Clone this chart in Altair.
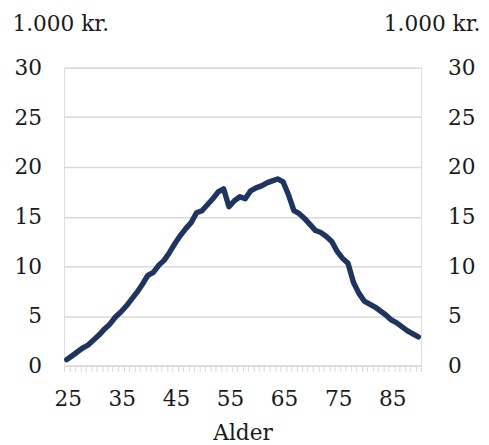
import altair as alt
import pandas as pd

ages = list(range(25, 91))
values = [0.6, 1.0, 1.4, 1.8, 2.1, 2.6, 3.1, 3.7, 4.2, 4.9,
          5.4, 6.0, 6.7, 7.4, 8.2, 9.1, 9.4, 10.1, 10.6, 11.4,
          12.3, 13.1, 13.8, 14.4, 15.4, 15.6, 16.2, 16.8, 17.5, 17.8,
          16.0, 16.6, 17.0, 16.8, 17.6, 17.9, 18.1, 18.4, 18.6, 18.8,
          18.5, 17.2, 15.6, 15.3, 14.8, 14.2, 13.6, 13.4, 13.0, 12.5,
          11.5, 10.8, 10.3, 8.4, 7.3, 6.5, 6.2, 5.9, 5.5, 5.1,
          4.6, 4.3, 3.9, 3.5, 3.2, 2.9]
y_ticks = [0, 5, 10, 15, 20, 25, 30]
x_labels = [25, 35, 45, 55, 65, 75, 85]
unit_label = "1.000 kr."
x_title = "Alder"

df = pd.DataFrame({"age": ages, "value": values})

W, H = 363, 303
FONT = "DejaVu Serif"
FS = 22
TXT = "#1a1a1a"
step = W / len(ages)

x_tick_vals = [a - 0.5 for a in ages] + [ages[-1] + 0.5]
label_cond = " || ".join(f"datum.value == {v - 0.5}" for v in x_labels)

x_enc = alt.X(
    "age:Q",
    scale=alt.Scale(domain=[ages[0] - 0.5, ages[-1] + 0.5], nice=False, zero=False),
    axis=alt.Axis(
        values=x_tick_vals,
        labelExpr=f"({label_cond}) ? format(datum.value + 0.5, 'd') : ''",
        labelOffset=step / 2 + 1,
        labelOverlap=False,
        labelFlush=False,
        grid=False,
        domainColor="#d9d9d9",
        domainWidth=1.5,
        tickColor="#d9d9d9",
        tickWidth=1,
        tickSize=6,
        labelPadding=18,
        labelFont=FONT,
        labelFontSize=FS,
        labelColor=TXT,
        title=x_title,
        titleFont=FONT,
        titleFontSize=FS,
        titleFontWeight="normal",
        titleColor=TXT,
        titlePadding=13,
    ),
)

y_scale = alt.Scale(domain=[0, 30], nice=False)

left = alt.Chart(df).mark_line(color="#1f3560", strokeWidth=5.5, strokeJoin="round", strokeCap="round").encode(
    x=x_enc,
    y=alt.Y(
        "value:Q",
        scale=y_scale,
        axis=alt.Axis(
            orient="left",
            values=y_ticks,
            grid=True,
            gridColor="#d9d9d9",
            gridWidth=1.5,
            domain=False,
            ticks=False,
            labelPadding=23,
            labelFont=FONT,
            labelFontSize=FS,
            labelColor=TXT,
            title=unit_label,
            titleAngle=0,
            titleAlign="left",
            titleBaseline="alphabetic",
            titleX=-53,
            titleY=-38,
            titleFont=FONT,
            titleFontSize=FS,
            titleFontWeight="normal",
            titleColor=TXT,
        ),
    ),
)

right = alt.Chart(df).mark_line(opacity=0).encode(
    x=x_enc,
    y=alt.Y(
        "value:Q",
        scale=y_scale,
        axis=alt.Axis(
            orient="right",
            values=y_ticks,
            grid=False,
            domain=False,
            ticks=False,
            labelPadding=27,
            labelFont=FONT,
            labelFontSize=FS,
            labelColor=TXT,
            title=unit_label,
            titleAngle=0,
            titleAlign="right",
            titleBaseline="alphabetic",
            titleX=60,
            titleY=-38,
            titleFont=FONT,
            titleFontSize=FS,
            titleFontWeight="normal",
            titleColor=TXT,
        ),
    ),
)

chart = (
    alt.layer(left, right)
    .resolve_axis(y="independent")
    .properties(
        width=W,
        height=H,
        autosize=alt.AutoSizeParams(type="none"),
        padding={"left": 57, "top": 57, "right": 61, "bottom": 77},
    )
    .configure_view(stroke=None)
    .configure(background="white")
)

chart.save("out.html", embed_options={"renderer": "svg", "actions": False})
